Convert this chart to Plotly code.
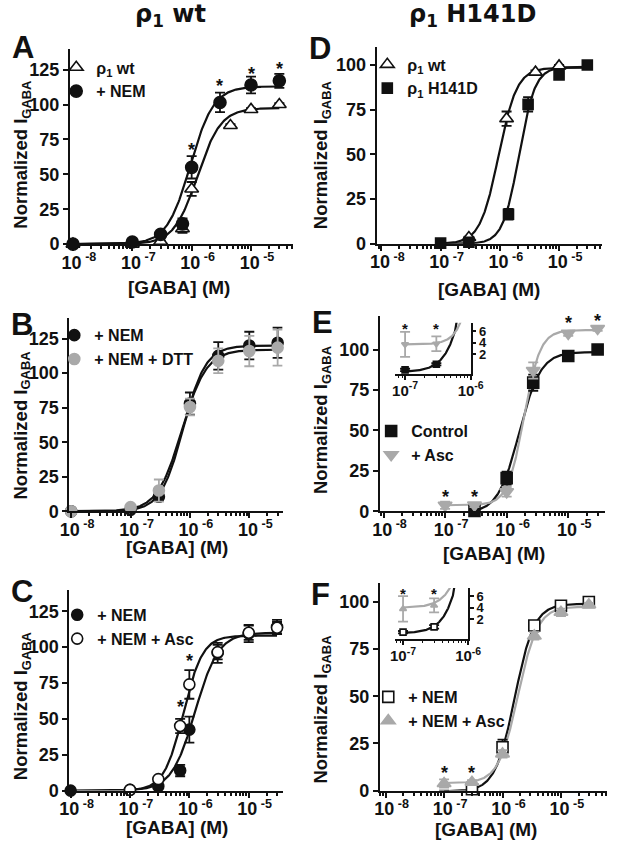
import numpy as np
import plotly.graph_objects as go

W, H = 623, 853
BLACK = "#111111"
GRAY = "#a9a9a9"
FONT = "Liberation Sans"

# ---------------- data ----------------
# fits are [bottom, top, EC50 (M), Hill slope]

# A  rho1 wt vs + NEM
a_wt_conc = [1e-8, 1e-7, 3e-7, 7e-7, 1e-6, 4.5e-6, 1e-5, 3e-5]
a_wt_resp = [0, 0, 2, 11, 39.5, 85, 96.5, 100]
a_wt_err = [0, 0, 0.5, 3, 5, 1, 1, 1]
a_nem_conc = [1e-8, 1e-7, 3e-7, 7e-7, 1e-6, 3e-6, 1e-5, 3e-5]
a_nem_resp = [0, 1.5, 7, 14.5, 55, 101.5, 114, 117]
a_nem_err = [0, 0.5, 1, 4, 8, 7, 6, 5]
a_star_conc = [1e-6, 3e-6, 1e-5, 3e-5]
a_star_y = [70, 116, 125, 128]
a_wt_fit = [0, 97.5, 1.25e-6, 2.2]
a_nem_fit = [0, 113, 9.5e-7, 2.2]

# B  + NEM vs + NEM + DTT
b_conc = [1e-8, 1e-7, 3e-7, 1e-6, 3e-6, 1e-5, 3e-5]
b_nem_resp = [0, 1, 10.5, 78, 112.5, 120, 122]
b_nem_err = [0, 0.5, 2.5, 8, 10, 10, 11]
b_dtt_resp = [0, 3, 15, 75.5, 109, 116, 118.5]
b_dtt_err = [0, 0.5, 8, 6, 9, 11, 13]
b_nem_fit = [0, 120, 7.7e-7, 2.3]
b_dtt_fit = [0, 117, 7.3e-7, 2.1]

# C  + NEM vs + NEM + Asc
c_nem_conc = [1e-8, 1e-7, 3e-7, 7e-7, 1e-6, 3e-6, 1e-5, 3e-5]
c_nem_resp = [0, 0.5, 3, 14, 42.5, 96, 109.5, 114]
c_nem_err = [0, 0.3, 1, 4, 9, 7, 6, 5]
c_asc_conc = [1e-7, 3e-7, 7e-7, 1e-6, 3e-6, 1e-5, 3e-5]
c_asc_resp = [0.5, 8, 45, 74, 96.5, 110, 113.5]
c_asc_err = [0.3, 1, 5, 10, 5, 5, 4]
c_star_conc = [7e-7, 1e-6]
c_star_y = [61, 93]
c_nem_fit = [0, 110, 1.25e-6, 2.2]
c_asc_fit = [0, 108, 7.9e-7, 2.66]

# D  rho1 wt vs rho1 H141D
d_wt_conc = [3e-7, 1.3e-6, 4e-6, 1e-5]
d_wt_resp = [3.5, 70, 96, 99.5]
d_wt_err = [0.5, 4, 1, 0.5]
d_mut_conc = [1e-7, 3e-7, 1.4e-6, 3e-6, 1e-5, 3e-5]
d_mut_resp = [0.4, 0.9, 16.5, 78, 94.5, 100]
d_mut_err = [0.3, 0.3, 3, 4, 1, 1]
d_wt_fit = [0, 98.5, 9.5e-7, 2.8]
d_mut_fit = [0, 99, 2.1e-6, 3.2]

# E  H141D control vs + Asc
e_conc = [1e-7, 3e-7, 1e-6, 2.7e-6, 1e-5, 3e-5]
e_ctl_resp = [-0.8, 0.2, 20.5, 79.5, 96, 100]
e_ctl_err = [0.2, 0.2, 4, 5, 1, 1]
e_asc_resp = [3.7, 3.8, 12, 87, 110, 113]
e_asc_err = [2.2, 1.3, 3, 5, 1.5, 1.5]
e_star_conc = [1e-7, 3e-7, 1e-5, 3e-5]
e_star_y = [11.5, 11.5, 119, 120]
e_inset_star_y = [7.2, 7.2]
e_ctl_fit = [-1.2, 98.5, 1.6e-6, 2.5]
e_asc_fit = [3.7, 112, 1.9e-6, 3.3]

# F  H141D + NEM vs + NEM + Asc
f_conc = [1e-7, 3e-7, 1e-6, 3.5e-6, 1e-5, 3e-5]
f_nem_resp = [-0.2, 0.7, 23, 87.5, 98, 100]
f_nem_err = [0.2, 0.3, 4, 2, 2, 1]
f_asc_resp = [3.8, 4.4, 19.5, 82, 94.5, 98.5]
f_asc_err = [2.2, 1.2, 2, 2, 2, 1]
f_star_conc = [1e-7, 3e-7]
f_star_y = [11.5, 11.5]
f_inset_star_y = [7.2, 7.2]
f_nem_fit = [-0.4, 99, 1.62e-6, 2.6]
f_asc_fit = [4, 97.5, 1.85e-6, 2.6]

major_ticks = [1e-8, 1e-7, 1e-6, 1e-5]
major_text = ["10<sup> -8</sup>", "10<sup> -7</sup>", "10<sup> -6</sup>", "10<sup> -5</sup>"]
minor_ticks = [m * 10.0 ** k for k in range(-9, -4) for m in range(2, 10)]


def hill(x, p):
    b, t, ec, n = p
    return b + (t - b) / (1 + (ec / x) ** n)


def ax(i, kind):
    return kind if i == 1 else f"{kind}{i}"


fig = go.Figure()
layout = {}

# panel geometry in pixels: (left, right), (top, bottom), log x range, y range, y ticks
panels = {
    1: ((62.3, 294), (49.3, 247), (-8.05, -4.29), (0, 140), [0, 25, 50, 75, 100, 125]),
    2: ((61.7, 283), (321.7, 517.3), (-8.03, -4.44), (0, 140), [0, 25, 50, 75, 100, 125]),
    3: ((61.7, 283), (596.7, 800), (-8.02, -4.43), (0, 140), [0, 25, 50, 75, 100, 125]),
    4: ((380.7, 615), (47.7, 246.7), (-8.08, -4.27), (0, 110), [0, 25, 50, 75, 100]),
    5: ((384, 618), (319.3, 517.3), (-8.06, -4.40), (0, 121), [0, 25, 50, 75, 100]),
    6: ((384, 620), (590, 800), (-8.10, -4.21), (0, 110), [0, 25, 50, 75, 100]),
}

for i, ((x0, x1), (y0, y1), xr, yr, yt) in panels.items():
    layout[ax(i, "xaxis")] = dict(
        type="log", range=list(xr), domain=[x0 / W, x1 / W], anchor=ax(i, "y"),
        showline=True, linewidth=2, linecolor=BLACK, showgrid=False, zeroline=False,
        ticks="outside", ticklen=5, tickwidth=2, tickcolor=BLACK,
        tickmode="array", tickvals=major_ticks, ticktext=major_text,
        tickfont=dict(family=FONT, size=18, color=BLACK, weight="bold"),
        ticklabelshift=6, ticklabelstandoff=-4,
        minor=dict(tickmode="array", tickvals=minor_ticks, ticks="outside",
                   ticklen=3, tickwidth=1.5, tickcolor=BLACK),
    )
    layout[ax(i, "yaxis")] = dict(
        range=list(yr), domain=[1 - y1 / H, 1 - y0 / H], anchor=ax(i, "x"),
        showline=True, linewidth=2, linecolor=BLACK, showgrid=False, zeroline=False,
        ticks="outside", ticklen=5, tickwidth=2, tickcolor=BLACK,
        tickmode="array", tickvals=yt,
        tickfont=dict(family=FONT, size=18, color=BLACK, weight="bold"),
    )

# insets (E = 7, F = 8) and their frames (9, 10)
insets = {
    7: ((400, 478.3), (326.7, 378.3), (-7.15, -6.0), (-1.5, 7.5)),
    8: ((400, 475.7), (595, 646.7), (-7.12, -6.0), (-1.4, 7.4)),
}
for i, ((x0, x1), (y0, y1), xr, yr) in insets.items():
    layout[ax(i, "xaxis")] = dict(
        type="log", range=list(xr), domain=[x0 / W, x1 / W], anchor=ax(i, "y"),
        showline=True, linewidth=1.5, linecolor=BLACK, showgrid=False, zeroline=False,
        ticks="outside", ticklen=4, tickwidth=1.5, tickcolor=BLACK,
        tickmode="array", tickvals=[1e-7, 1e-6], ticktext=["10<sup>-7</sup>", "10<sup>-6</sup>"],
        tickfont=dict(family=FONT, size=15, color=BLACK, weight="bold"),
        ticklabelstandoff=-2,
        minor=dict(tickmode="array", tickvals=minor_ticks, ticks="outside",
                   ticklen=2.5, tickwidth=1, tickcolor=BLACK),
    )
    layout[ax(i, "yaxis")] = dict(
        range=list(yr), domain=[1 - y1 / H, 1 - y0 / H], anchor=ax(i, "x"), side="right",
        showline=True, linewidth=1.5, linecolor=BLACK, showgrid=False, zeroline=False,
        ticks="outside", ticklen=4, tickwidth=1.5, tickcolor=BLACK,
        tickmode="array", tickvals=[2, 4, 6],
        tickfont=dict(family=FONT, size=13, color=BLACK, weight="bold"),
    )

frames = {9: ((395.5, 502.5), (319.3, 405)), 10: ((394.5, 498), (591, 671.7))}
for i, ((x0, x1), (y0, y1)) in frames.items():
    box = dict(range=[0, 1], showline=True, mirror=True, linewidth=1.5, linecolor=BLACK,
               showgrid=False, zeroline=False, showticklabels=False, ticks="", fixedrange=True)
    layout[ax(i, "xaxis")] = dict(box, domain=[x0 / W, x1 / W], anchor=ax(i, "y"))
    layout[ax(i, "yaxis")] = dict(box, domain=[1 - y1 / H, 1 - y0 / H], anchor=ax(i, "x"))


def curve(i, p, color, conc):
    # fitted curve drawn over the span of the measured concentrations
    xs = np.logspace(np.log10(min(conc)), np.log10(max(conc)), 300)
    fig.add_trace(go.Scatter(x=xs, y=hill(xs, p), mode="lines", line=dict(color=color, width=2.2),
                             xaxis=ax(i, "x"), yaxis=ax(i, "y"), showlegend=False, hoverinfo="skip"))


def points(i, x, y, err, name, symbol, fill, edge, size, legend, show=True):
    fig.add_trace(go.Scatter(
        x=x, y=y, mode="markers", name=name, legend=legend, showlegend=show,
        marker=dict(symbol=symbol, size=size, color=fill, line=dict(color=edge, width=1.6)),
        error_y=dict(type="data", array=err, color=edge if fill == "white" else fill,
                     thickness=1.8, width=5),
        cliponaxis=False, xaxis=ax(i, "x"), yaxis=ax(i, "y")))


def stars(i, x, y, size=18):
    for cx, cy in zip(x, y):
        layout.setdefault("annotations", []).append(dict(
            x=np.log10(cx), y=cy, xref=ax(i, "x"), yref=ax(i, "y"), text="*", showarrow=False,
            font=dict(family=FONT, size=size, color=BLACK, weight="bold"), yshift=-4))


# A
curve(1, a_wt_fit, BLACK, a_wt_conc)
curve(1, a_nem_fit, BLACK, a_nem_conc)
points(1, a_wt_conc, a_wt_resp, a_wt_err, "ρ<sub>1</sub> wt", "triangle-up", "white", BLACK, 12, "legend")
points(1, a_nem_conc, a_nem_resp, a_nem_err, "+ NEM", "circle", BLACK, BLACK, 12, "legend")
stars(1, a_star_conc, a_star_y)

# B
curve(2, b_nem_fit, BLACK, b_conc)
curve(2, b_dtt_fit, BLACK, b_conc)
points(2, b_conc, b_nem_resp, b_nem_err, "+ NEM", "circle", BLACK, BLACK, 11, "legend2")
points(2, b_conc, b_dtt_resp, b_dtt_err, "+ NEM + DTT", "circle", GRAY, GRAY, 11, "legend2")

# C
curve(3, c_nem_fit, BLACK, c_nem_conc)
curve(3, c_asc_fit, BLACK, c_asc_conc)
points(3, c_nem_conc, c_nem_resp, c_nem_err, "+ NEM", "circle", BLACK, BLACK, 11, "legend3")
points(3, c_asc_conc, c_asc_resp, c_asc_err, "+ NEM + Asc", "circle", "white", BLACK, 11, "legend3")
stars(3, c_star_conc, c_star_y)

# D
curve(4, d_wt_fit, BLACK, d_mut_conc)
curve(4, d_mut_fit, BLACK, d_mut_conc)
points(4, d_wt_conc, d_wt_resp, d_wt_err, "ρ<sub>1</sub> wt", "triangle-up", "white", BLACK, 12, "legend4")
points(4, d_mut_conc, d_mut_resp, d_mut_err, "ρ<sub>1</sub> H141D", "square", BLACK, BLACK, 10, "legend4")

# E
curve(5, e_ctl_fit, BLACK, e_conc)
curve(5, e_asc_fit, GRAY, e_conc)
points(5, e_conc, e_ctl_resp, e_ctl_err, "Control", "square", BLACK, BLACK, 11, "legend5")
points(5, e_conc, e_asc_resp, e_asc_err, "+ Asc", "triangle-down", GRAY, GRAY, 12, "legend5")
stars(5, e_star_conc, e_star_y)
curve(7, e_ctl_fit, BLACK, e_conc[:3])
curve(7, e_asc_fit, GRAY, e_conc[:3])
points(7, e_conc[:2], e_ctl_resp[:2], e_ctl_err[:2], "", "square", BLACK, BLACK, 6, "legend5", False)
points(7, e_conc[:2], e_asc_resp[:2], e_asc_err[:2], "", "triangle-down", GRAY, GRAY, 6, "legend5", False)
stars(7, e_star_conc[:2], e_inset_star_y, 15)

# F
curve(6, f_nem_fit, BLACK, f_conc)
curve(6, f_asc_fit, GRAY, f_conc)
points(6, f_conc, f_nem_resp, f_nem_err, "+ NEM", "square", "white", BLACK, 11, "legend6")
points(6, f_conc, f_asc_resp, f_asc_err, "+ NEM + Asc", "triangle-up", GRAY, GRAY, 12, "legend6")
stars(6, f_star_conc, f_star_y)
curve(8, f_nem_fit, BLACK, f_conc[:3])
curve(8, f_asc_fit, GRAY, f_conc[:3])
points(8, f_conc[:2], f_nem_resp[:2], f_nem_err[:2], "", "square", "white", BLACK, 6, "legend6", False)
points(8, f_conc[:2], f_asc_resp[:2], f_asc_err[:2], "", "triangle-up", GRAY, GRAY, 6, "legend6", False)
stars(8, f_star_conc, f_inset_star_y, 15)

# legends: (left px, top px)
legend_pos = {"legend": (48, 51), "legend2": (46, 322), "legend3": (49, 605),
              "legend4": (371, 48), "legend5": (375, 419), "legend6": (372, 688)}
for key, (lx, ly) in legend_pos.items():
    layout[key] = dict(x=lx / W, y=1 - ly / H, xanchor="left", yanchor="top",
                       bgcolor="rgba(0,0,0,0)", borderwidth=0, itemsizing="trace",
                       font=dict(family=FONT, size=16, color=BLACK, weight="bold"))


def label(text, x, y, size, angle=0, family=FONT):
    layout.setdefault("annotations", []).append(dict(
        text=text, x=x / W, y=1 - y / H, xref="paper", yref="paper", showarrow=False,
        xanchor="center", yanchor="middle", textangle=angle,
        font=dict(family=family, size=size, color=BLACK, weight="bold")))


label("ρ<sub>1</sub> wt", 167, 16, 24, family="DejaVu Sans")
label("ρ<sub>1</sub> H141D", 480, 16, 24, family="DejaVu Sans")
for t, x, y in [("A", 13, 48), ("B", 12, 328), ("C", 12, 599),
                ("D", 322, 49), ("E", 324, 326), ("F", 322, 602)]:
    label(t, x, y, 31)
for x, y in [(13, 157), (12, 431), (12, 715), (324, 157), (324, 425), (324, 718)]:
    label("Normalized I<sub>GABA</sub>", x, y, 18.5, angle=-90)
for x, y in [(175, 291), (173, 554), (173, 837), (497, 293), (503, 560), (494, 839)]:
    label("[GABA] (M)", x, y, 19)

fig.update_layout(**layout)
fig.update_layout(width=W, height=H, margin=dict(l=0, r=0, t=0, b=0),
                  paper_bgcolor="white", plot_bgcolor="rgba(0,0,0,0)")
fig.write_html("out.html", config={"displayModeBar": False},
               post_script="document.documentElement.style.overflow='hidden';"
                           "document.body.style.overflow='hidden';"
                           "document.body.style.margin='0';")
